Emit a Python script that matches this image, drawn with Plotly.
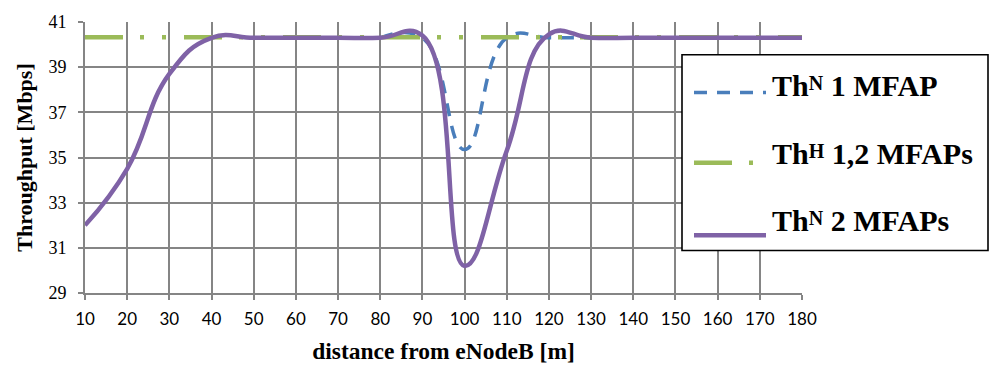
import plotly.graph_objects as go

# ---- data ----
distance = [10, 20, 30, 40, 50, 60, 70, 80, 90, 100, 110, 120, 130, 140, 150, 160, 170, 180]
distance_1mfap = [80, 90, 100, 110, 120, 130, 140, 150, 160, 170, 180]
th_n_1mfap = [40.3, 40.3, 35.35, 40.3, 40.3, 40.3, 40.3, 40.3, 40.3, 40.3, 40.3]
th_h_12mfaps = [40.32] * len(distance)
th_n_2mfaps = [32.0, 34.5, 38.7, 40.3, 40.3, 40.3, 40.3, 40.3, 40.4, 30.2, 35.3, 40.45, 40.3, 40.3, 40.3, 40.3, 40.3, 40.3]

SUP = '<span style="font-size:20px;baseline-shift:6px">{}</span>'
series_names = ["Th" + SUP.format("N") + " 1 MFAP",
                "Th" + SUP.format("H") + " 1,2 MFAPs",
                "Th" + SUP.format("N") + " 2 MFAPs"]
x_ticks = list(range(10, 181, 10))
y_ticks = [29, 31, 33, 35, 37, 39, 41]

BLUE = "#4A7EBB"
GREEN = "#9BBB59"
PURPLE = "#7F62A6"
GRID = "#858585"
SERIF = "Liberation Serif"
GREEN_DASH = "38px,17px,4px,18px,4px,18px"
BLUE_DASH = "13px,10px"

W, H = 993, 372
L, R, T, B = 85, 191, 13, 78

fig = go.Figure()
fig.add_trace(go.Scatter(x=distance_1mfap, y=th_n_1mfap, mode="lines", name="ThN 1 MFAP",
                         line=dict(color=BLUE, width=3.5, dash=BLUE_DASH, shape="spline", smoothing=1.3),
                         showlegend=False))
fig.add_trace(go.Scatter(x=distance, y=th_h_12mfaps, mode="lines", name="ThH 1,2 MFAPs",
                         line=dict(color=GREEN, width=4.5, dash=GREEN_DASH),
                         showlegend=False))
fig.add_trace(go.Scatter(x=distance, y=th_n_2mfaps, mode="lines", name="ThN 2 MFAPs",
                         line=dict(color=PURPLE, width=4.5, shape="spline", smoothing=1.3),
                         showlegend=False))

pw = W - L - R
ph = H - T - B


def px_x(p):
    return (p - L) / pw


def px_y(p):
    return (H - B - p) / ph


# manual legend (box, samples, labels)
shapes = [dict(type="rect", xref="paper", yref="paper", x0=px_x(682), x1=px_x(988), y0=px_y(250), y1=px_y(47),
               line=dict(color="black", width=1.6), fillcolor="white", layer="above")]
legend_rows = [(86, BLUE, 3.5, BLUE_DASH), (159, GREEN, 4.5, GREEN_DASH), (234, PURPLE, 4.5, "solid")]
for (yy, col, wd, ds) in legend_rows:
    shapes.append(dict(type="line", xref="paper", yref="paper", x0=px_x(694), x1=px_x(766), y0=px_y(yy), y1=px_y(yy),
                       line=dict(color=col, width=wd, dash=ds), layer="above"))
annotations = []
for name, yy in zip(series_names, [79, 149, 219]):
    annotations.append(dict(text=name, xref="paper", yref="paper", x=px_x(770), y=px_y(yy), xanchor="left",
                            yanchor="middle", showarrow=False,
                            font=dict(family=SERIF, size=30, color="black", weight="bold")))

fig.update_layout(
    width=W, height=H, margin=dict(l=L, r=R, t=T, b=B),
    paper_bgcolor="white", plot_bgcolor="white",
    shapes=shapes, annotations=annotations, showlegend=False,
    xaxis=dict(range=[10, 180], tickvals=x_ticks, showgrid=True, gridcolor=GRID, gridwidth=2,
               zeroline=False, showline=True, linecolor=GRID, linewidth=2,
               ticks="outside", ticklen=5, tickwidth=2, tickcolor=GRID,
               tickfont=dict(family="Lato", size=17, color="black"), ticklabelstandoff=5,
               title=dict(text="distance from eNodeB [m]", standoff=14,
                          font=dict(family=SERIF, size=23.5, color="black", weight="bold"))),
    yaxis=dict(range=[29, 41], tickvals=y_ticks, showgrid=True, gridcolor=GRID, gridwidth=2,
               zeroline=False, showline=True, linecolor=GRID, linewidth=2,
               ticks="outside", ticklen=5, tickwidth=2, tickcolor=GRID,
               tickfont=dict(family=SERIF, size=18, color="black"), ticklabelstandoff=8,
               title=dict(text="Throughput [Mbps]", standoff=10,
                          font=dict(family=SERIF, size=22, color="black", weight="bold"))),
)

fig.write_html("out.html")
